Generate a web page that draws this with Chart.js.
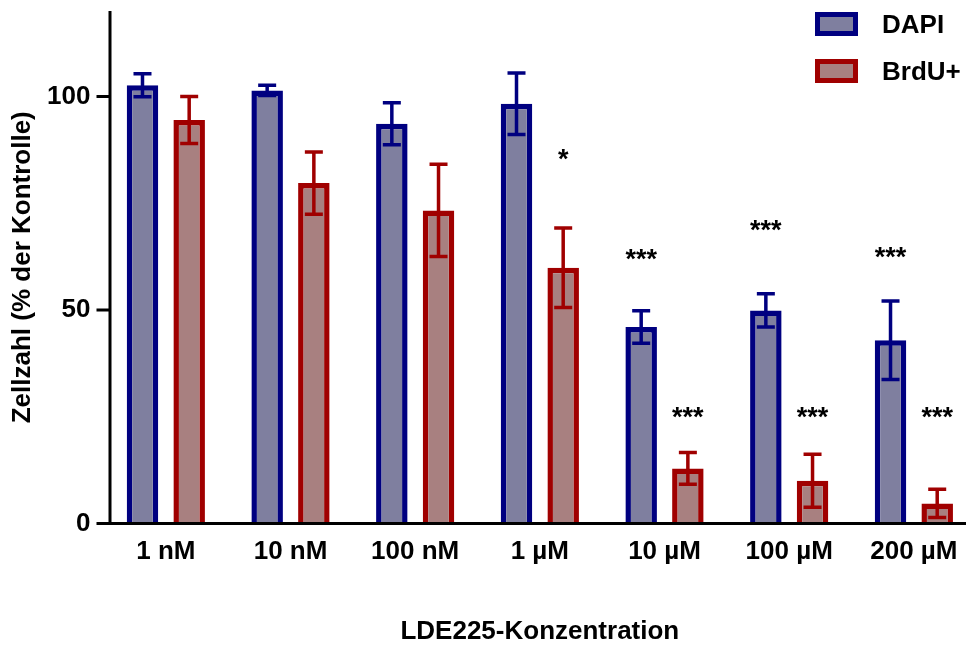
<!DOCTYPE html>
<html>
<head>
<meta charset="utf-8">
<script src="https://cdn.jsdelivr.net/npm/chart.js@4.4.1/dist/chart.umd.min.js"></script>
<style>
  html, body { margin: 0; padding: 0; background: #fff; overflow: hidden; }
  #wrap { position: relative; width: 980px; height: 645px; }
</style>
</head>
<body>
<div id="wrap"><canvas id="chart"></canvas></div>
<script>
// values (mean and SD, % of control)
const concentrations = ['1 nM', '10 nM', '100 nM', '1 µM', '10 µM', '100 µM', '200 µM'];
const dapiMean = [102.6, 101.4, 93.6, 98.3, 46.0, 49.9, 42.9];
const dapiSd   = [2.7, 1.2, 4.9, 7.2, 3.8, 3.9, 9.2];
const brduMean = [94.5, 79.7, 73.3, 59.9, 12.9, 10.0, 4.7];
const brduSd   = [5.5, 7.3, 10.8, 9.3, 3.7, 6.2, 3.3];

// significance marks and the height (y value) where they sit
const dapiStars  = ['', '', '', '', '***', '***', '***'];
const dapiStarAt = [null, null, null, null, 62.4, 69.2, 62.8];
const brduStars  = ['', '', '', '*', '***', '***', '***'];
const brduStarAt = [null, null, null, 85.8, 25.4, 25.4, 25.4];

const yTicks = [0, 50, 100];

const FONT = '"Liberation Sans", Arial, Helvetica, sans-serif';
Chart.defaults.font.family = FONT;
Chart.defaults.color = '#000';

const AXIS_X = 110;

// axis lines + tick marks in the Prism style
const axisPlugin = {
  id: 'axisLines',
  afterDatasetsDraw(chart) {
    const { ctx, chartArea, scales: { y } } = chart;
    ctx.save();
    ctx.strokeStyle = '#000';
    ctx.lineWidth = 3;
    ctx.beginPath();
    ctx.moveTo(AXIS_X, chartArea.top);
    ctx.lineTo(AXIS_X, chartArea.bottom + 1.5);
    ctx.moveTo(AXIS_X - 1.5, chartArea.bottom);
    ctx.lineTo(chart.width, chartArea.bottom);
    yTicks.forEach(v => {
      const py = y.getPixelForValue(v);
      ctx.moveTo(AXIS_X - 13.5, py);
      ctx.lineTo(AXIS_X, py);
    });
    ctx.stroke();
    ctx.restore();
  }
};

const errorBarPlugin = {
  id: 'errorBars',
  afterDatasetsDraw(chart) {
    const { ctx, scales: { y } } = chart;
    ctx.save();
    chart.data.datasets.forEach((ds, i) => {
      const meta = chart.getDatasetMeta(i);
      meta.data.forEach((bar, j) => {
        const m = ds.data[j], sd = ds.sd[j];
        const top = y.getPixelForValue(m + sd);
        const bot = y.getPixelForValue(m - sd);
        ctx.strokeStyle = ds.borderColor;
        ctx.lineWidth = 3.5;
        ctx.beginPath();
        ctx.moveTo(bar.x, top);
        ctx.lineTo(bar.x, bot);
        ctx.moveTo(bar.x - 9, top);
        ctx.lineTo(bar.x + 9, top);
        ctx.moveTo(bar.x - 9, bot);
        ctx.lineTo(bar.x + 9, bot);
        ctx.stroke();
      });
    });
    ctx.restore();
  }
};

const starPlugin = {
  id: 'stars',
  afterDatasetsDraw(chart) {
    const { ctx, scales: { y } } = chart;
    ctx.save();
    ctx.font = 'bold 27px ' + FONT;
    ctx.fillStyle = '#000';
    ctx.textAlign = 'center';
    ctx.textBaseline = 'alphabetic';
    chart.data.datasets.forEach((ds, i) => {
      const meta = chart.getDatasetMeta(i);
      meta.data.forEach((bar, j) => {
        if (!ds.stars[j]) return;
        ctx.fillText(ds.stars[j], bar.x, y.getPixelForValue(ds.starAt[j]) + 11);
      });
    });
    ctx.restore();
  }
};

const legendPlugin = {
  id: 'boxLegend',
  afterDraw(chart) {
    const { ctx } = chart;
    ctx.save();
    ctx.font = 'bold 26px ' + FONT;
    ctx.textBaseline = 'middle';
    ctx.textAlign = 'left';
    chart.data.datasets.forEach((ds, i) => {
      const top = 12 + i * 47;
      ctx.fillStyle = ds.backgroundColor;
      ctx.fillRect(815, top, 43, 24);
      ctx.strokeStyle = ds.borderColor;
      ctx.lineWidth = 5;
      ctx.strokeRect(817.5, top + 2.5, 38, 19);
      ctx.fillStyle = '#000';
      ctx.fillText(ds.label, 882, top + 14);
    });
    ctx.restore();
  }
};

new Chart(document.getElementById('chart'), {
  type: 'bar',
  data: {
    labels: concentrations,
    datasets: [
      {
        label: 'DAPI',
        data: dapiMean,
        sd: dapiSd,
        stars: dapiStars,
        starAt: dapiStarAt,
        backgroundColor: '#7f7f9f',
        borderColor: '#000080',
        borderWidth: 5.5,
        borderSkipped: 'start'
      },
      {
        label: 'BrdU+',
        data: brduMean,
        sd: brduSd,
        stars: brduStars,
        starAt: brduStarAt,
        backgroundColor: '#a88080',
        borderColor: '#a00000',
        borderWidth: 5.5,
        borderSkipped: 'start'
      }
    ]
  },
  options: {
    responsive: true,
    maintainAspectRatio: false,
    animation: false,
    layout: { padding: { top: 11, right: 3.8, left: 0, bottom: 0 } },
    datasets: {
      bar: { categoryPercentage: 0.749, barPercentage: 0.675 }
    },
    plugins: {
      legend: { display: false },
      tooltip: { enabled: false }
    },
    scales: {
      x: {
        grid: { display: false, drawTicks: false },
        border: { display: false },
        ticks: { font: { size: 26, weight: 'bold' }, padding: 13, color: '#000' },
        title: {
          display: true,
          text: 'LDE225-Konzentration',
          font: { size: 26, weight: 'bold', lineHeight: 1 },
          color: '#000',
          padding: { top: 0, bottom: 0 }
        },
        afterFit(scale) {
          scale.height = 121.5;
          scale.paddingLeft = 0;
          scale.paddingRight = 0;
        }
      },
      y: {
        min: 0,
        max: 120,
        grid: { display: false, drawTicks: false },
        border: { display: false },
        ticks: {
          stepSize: 50,
          includeBounds: false,
          padding: 13,
          font: { size: 26, weight: 'bold' },
          color: '#000'
        },
        title: {
          display: true,
          text: 'Zellzahl (% der Kontrolle)',
          font: { size: 26, weight: 'bold' },
          color: '#000',
          padding: { top: 7, bottom: 0 }
        },
        afterFit(scale) {
          scale.width = 103.5;
          scale.paddingTop = 0;
          scale.paddingBottom = 0;
        }
      }
    }
  },
  plugins: [axisPlugin, errorBarPlugin, starPlugin, legendPlugin]
});
</script>
</body>
</html>
